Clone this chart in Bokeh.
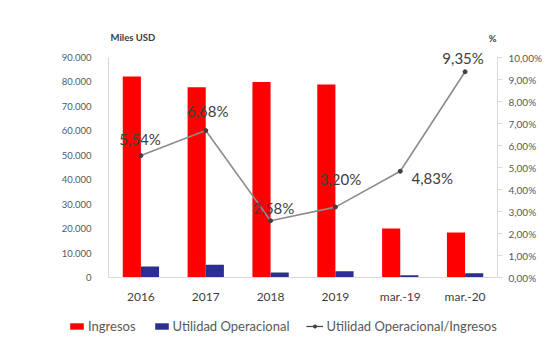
from bokeh.plotting import figure
from bokeh.layouts import column
from bokeh.models import (FactorRange, Range1d, LinearAxis, FixedTicker,
                          ColumnDataSource, Legend, LegendItem, Label)
from bokeh.transform import dodge
from bokeh.core.properties import value
from bokeh.embed import file_html
from bokeh.resources import INLINE

# ---- data ----
categories = ["2016", "2017", "2018", "2019", "mar.-19", "mar.-20"]
ingresos = [82200, 77800, 80000, 79000, 20000, 18400]
utilidad = [4550, 5200, 2060, 2530, 970, 1720]
ratio = [5.54, 6.68, 2.58, 3.20, 4.83, 9.35]
ratio_labels = ["5,54%", "6,68%", "2,58%", "3,20%", "4,83%", "9,35%"]
left_ticks = [0, 10000, 20000, 30000, 40000, 50000, 60000, 70000, 80000, 90000]
left_tick_labels = ["0", "10.000", "20.000", "30.000", "40.000", "50.000",
                    "60.000", "70.000", "80.000", "90.000"]
right_ticks = [0, 1, 2, 3, 4, 5, 6, 7, 8, 9, 10]
right_tick_labels = ["0,00%", "1,00%", "2,00%", "3,00%", "4,00%", "5,00%",
                     "6,00%", "7,00%", "8,00%", "9,00%", "10,00%"]
series_names = ["Ingresos", "Utilidad Operacional", "Utilidad Operacional/Ingresos"]
# label placement (screen px offsets), style only
label_dx = [-1, 2, 3, 5, 32, -2]
label_dy = [-17, -20, -13, -28, 7, -14]

FONT = "Lato"
RED, BLUE, LINE, MARK = "#FF0000", "#2B2F8F", "#8C8C8C", "#404040"

# ---- geometry (pixels) ----
W = 554
H_MAIN, H_LEG = 310, 35
FRAME_TOP = 24          # top of drawing area
ZERO_Y = 277            # pixel row of value 0
MAX_Y = 57              # pixel row of the axes' maximum
LEFT_Y_MAX = 90000
RIGHT_Y_MAX = 10
span_ratio = (ZERO_Y - FRAME_TOP) / (ZERO_Y - MAX_Y)

src = ColumnDataSource(dict(cat=categories, ing=ingresos, uti=utilidad, ratio=ratio,
                            lab=ratio_labels, dx=label_dx, dy=label_dy))


def draw_series(fig, y_name=None):
    kw = {} if y_name is None else {"y_range_name": y_name}
    r1 = fig.vbar(x=dodge("cat", -0.14, range=fig.x_range), top="ing", width=0.28,
                  source=src, fill_color=RED, line_color=None)
    r2 = fig.vbar(x=dodge("cat", 0.14, range=fig.x_range), top="uti", width=0.28,
                  source=src, fill_color=BLUE, line_color=None)
    r3 = fig.line(x="cat", y="ratio", source=src, line_color=LINE, line_width=1.6, **kw)
    r4 = fig.scatter(x="cat", y="ratio", source=src, size=4,
                     fill_color=MARK, line_color=MARK, **kw)
    return r1, r2, r3, r4


p = figure(width=W, height=H_MAIN, x_range=FactorRange(*categories, range_padding=0),
           y_range=Range1d(0, LEFT_Y_MAX * span_ratio), output_backend="svg",
           toolbar_location=None,
           min_border_left=108, min_border_right=57, min_border_top=FRAME_TOP,
           min_border_bottom=H_MAIN - ZERO_Y)
p.extra_y_ranges = {"pct": Range1d(0, RIGHT_Y_MAX * span_ratio)}
p.outline_line_color = None
p.grid.visible = False
p.background_fill_color = "white"
p.border_fill_color = "white"

draw_series(p, "pct")
p.text(x="cat", y="ratio", text="lab", source=src, y_range_name="pct",
       x_offset="dx", y_offset="dy", text_align="center", text_baseline="middle",
       text_font=value(FONT), text_font_size="15px", text_color="#404040")

# axes
ax = p.xaxis[0]
ax.axis_line_color = "#D9D9D9"
ax.major_tick_line_color = None
ax.minor_tick_line_color = None
ax.major_label_text_font = FONT
ax.major_label_text_font_size = "12px"
ax.major_label_text_color = "#404040"
ax.major_label_standoff = 5

ay = p.yaxis[0]
ay.ticker = FixedTicker(ticks=left_ticks)
ay.bounds = (0, LEFT_Y_MAX)
ay.major_label_overrides = dict(zip(left_ticks, left_tick_labels))
ay.axis_line_color = "#D9D9D9"
ay.major_tick_line_color = None
ay.minor_tick_line_color = None
ay.major_label_text_font = FONT
ay.major_label_text_font_size = "9.5px"
ay.major_label_text_color = "#595959"
ay.major_label_standoff = 11

ry = LinearAxis(y_range_name="pct", ticker=FixedTicker(ticks=right_ticks),
                bounds=(0, RIGHT_Y_MAX),
                major_label_overrides=dict(zip(right_ticks, right_tick_labels)))
ry.axis_line_color = "#D9D9D9"
ry.major_tick_line_color = "#D9D9D9"
ry.major_tick_in = 0
ry.major_tick_out = 5
ry.minor_tick_line_color = None
ry.major_label_text_font = FONT
ry.major_label_text_font_size = "10px"
ry.major_label_text_color = "#595959"
ry.major_label_standoff = 6
p.add_layout(ry, "right")

# axis titles (kept inside the drawing area)
p.add_layout(Label(x=0, y=LEFT_Y_MAX, x_offset=2, y_offset=20, text="Miles USD",
                   text_font=FONT, text_font_size="9.5px", text_font_style="bold",
                   text_color="#404040", text_align="left", text_baseline="middle"))
p.add_layout(Label(x=len(categories), y=RIGHT_Y_MAX, y_range_name="pct", x_offset=-1,
                   y_offset=19, text="%",
                   text_font=FONT, text_font_size="9.5px", text_font_style="bold",
                   text_color="#404040", text_align="right", text_baseline="middle"))

# ---- legend strip: a small figure whose own copies of the series lie below
#      its visible range, so only the legend swatches show ----
pl = figure(width=W, height=H_LEG, x_range=FactorRange(*categories, range_padding=0),
            y_range=Range1d(100000, 200000), output_backend="svg",
            toolbar_location=None, x_axis_type=None, y_axis_type=None, min_border=0)
if "frame_align" in pl.properties():
    pl.frame_align = False
pl.outline_line_color = None
pl.grid.visible = False
pl.border_fill_color = "white"
pl.background_fill_color = "white"
s_ing, s_uti, s_line, s_pts = draw_series(pl)
s_line.glyph.line_color = MARK
s_line.glyph.line_width = 1.2
legend = Legend(items=[LegendItem(label=series_names[0], renderers=[s_ing]),
                       LegendItem(label=series_names[1], renderers=[s_uti]),
                       LegendItem(label=series_names[2], renderers=[s_line, s_pts])],
                orientation="horizontal", location=(68, 11),
                glyph_width=17, glyph_height=8, label_standoff=3, spacing=17,
                label_text_font=FONT, label_text_font_size="13px",
                label_text_color="#595959", label_height=14,
                padding=0, margin=0, border_line_color=None,
                background_fill_alpha=0)
pl.add_layout(legend, "center")

layout = column(p, pl, spacing=0)
open("out.html", "w").write(file_html(layout, INLINE))
